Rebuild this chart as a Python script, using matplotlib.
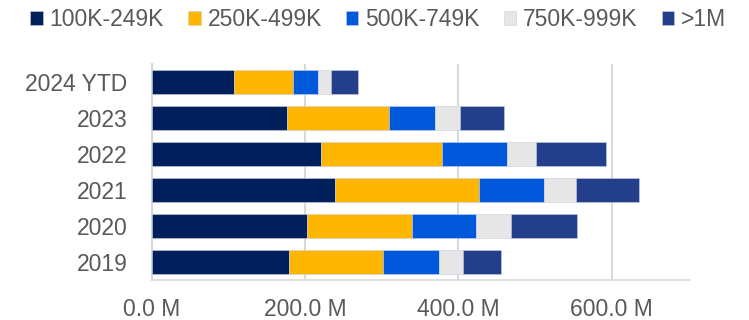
import matplotlib.pyplot as plt
import numpy as np

plt.rcParams['font.family'] = ['Liberation Sans', 'DejaVu Sans']

years = ['2024 YTD', '2023', '2022', '2021', '2020', '2019']
series = ['100K-249K', '250K-499K', '500K-749K', '750K-999K', '>1M']
# values in millions
v_100_249 = [107, 176, 220, 239, 202, 179]
v_250_499 = [77, 133, 159, 188, 137, 123]
v_500_749 = [33, 60, 84, 84, 84, 72]
v_750_999 = [16, 33, 38, 43, 45, 32]
v_1m = [36, 57, 92, 81, 87, 49]
colors = ['#001F5B', '#FFB600', '#0058DA', '#E6E6E6', '#233F8C']

data = [v_100_249, v_250_499, v_500_749, v_750_999, v_1m]

fig = plt.figure(figsize=(7.49, 3.2), dpi=100)
ax = fig.add_axes([0.203, 0.125, 0.718, 0.675])

ypos = np.arange(len(years))
left = np.zeros(len(years))
for name, vals, c in zip(series, data, colors):
    ax.barh(ypos, vals, 0.64, left=left, color=c, label=name,
            edgecolor='#c8d0e0', linewidth=0.4, zorder=3)
    left += np.array(vals)

ax.set_ylim(5.5, -0.5)
ax.set_xlim(0, 702)
ax.set_yticks(ypos)
ax.set_yticklabels(years)
ax.set_xticks([0, 200, 400, 600])
ax.set_xticklabels(['0.0 M', '200.0 M', '400.0 M', '600.0 M'])
ax.tick_params(axis='both', length=0, labelsize=16.5, colors='#595959')
ax.tick_params(axis='x', pad=13)
ax.tick_params(axis='y', pad=17.5)
ax.grid(axis='x', color='#D9D9D9', linewidth=1.5, zorder=0)
for s in ['top', 'right']:
    ax.spines[s].set_visible(False)
ax.spines['bottom'].set_color('#D9D9D9')
ax.spines['bottom'].set_linewidth(1.2)
ax.spines['left'].set_color('#D9D9D9')
ax.spines['left'].set_linewidth(1.5)

fig.legend(loc='center', bbox_to_anchor=(0.505, 0.9375), ncol=5, frameon=False,
           fontsize=16.5, handlelength=0.55, handleheight=0.55, handletextpad=0.3,
           columnspacing=1.05, labelcolor='#595959', borderpad=0)

plt.savefig('out.png', dpi=100)
